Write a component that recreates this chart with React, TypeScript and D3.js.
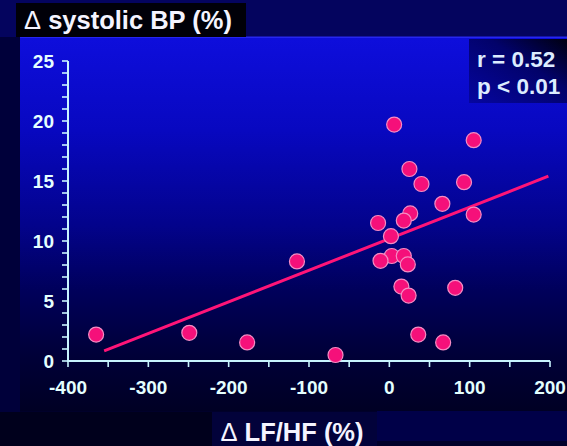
import React from "react";
import * as d3 from "d3";

const W = 567;
const H = 446;

const xValues = [6, 105, 25, 40, 93, 66, 26, 18, -14, 105, 2, 3, 18, -11, 23, 15, 24, 82, 36, 67, -67, -365, -249, -177, -115];
const yValues = [19.7, 18.4, 16.0, 14.75, 14.9, 13.1, 12.3, 11.7, 11.5, 12.2, 10.4, 8.75, 8.75, 8.35, 8.05, 6.2, 5.45, 6.1, 2.2, 1.55, 0.5, 2.2, 2.35, 1.55, 8.3];
const fitX = [-355, 198];
const fitY = [0.85, 15.4];
const xTickLabels = [-400, -300, -200, -100, 0, 100, 200];
const yTickLabels = [0, 5, 10, 15, 20, 25];

export default function App() {
  const x = d3.scaleLinear().domain([-400, 200]).range([68, 550]);
  const y = d3.scaleLinear().domain([0, 25]).range([361, 61]);
  const xMinor = d3.range(-400, 201, 50);
  const yMinor = d3.range(0, 26, 1);
  const line = d3.line<number>().x((d) => x(fitX[d])).y((d) => y(fitY[d]));
  const font = "'Liberation Sans', Arial, sans-serif";
  const axisCol = "#c8f4ff";
  const txtCol = "#e4ffff";
  return (
    <svg width={W} height={H} style={{ position: "absolute", left: 0, top: 0 }} fontFamily={font}>
      <defs>
        <linearGradient id="panel" x1="0" y1="0" x2="0" y2="1">
          <stop offset="0" stopColor="#0e0edc" />
          <stop offset="0.25" stopColor="#0808c0" />
          <stop offset="0.5" stopColor="#03038c" />
          <stop offset="0.68" stopColor="#00005a" />
          <stop offset="0.85" stopColor="#000038" />
          <stop offset="1" stopColor="#000024" />
        </linearGradient>
        <linearGradient id="rbox" x1="0" y1="1" x2="1" y2="0">
          <stop offset="0" stopColor="#0606a0" />
          <stop offset="0.6" stopColor="#02026a" />
          <stop offset="1" stopColor="#000010" />
        </linearGradient>
      </defs>
      <rect x={0} y={0} width={W} height={H} fill="#00002a" />
      <rect x={0} y={0} width={20} height={412} fill="#00003a" />
      <rect x={0} y={0} width={W} height={37} fill="#04045e" />
      <rect x={20} y={37} width={W - 20} height={374} fill="url(#panel)" />
      <rect x={20} y={36.5} width={W - 20} height={1.5} fill="#2626f0" />
      <rect x={377} y={411} width={W - 377} height={30} fill="#000048" />
      <rect x={0} y={412} width={212} height={34} fill="#00001c" />

      {/* title box */}
      <rect x={16} y={3} width={230} height={34} fill="#000008" />
      <text x={24} y={29} fill="#f4f4ff" fontSize={25.5} fontWeight="bold">
        <tspan fontWeight="normal">Δ</tspan> systolic BP (%)
      </text>

      {/* r/p box */}
      <rect x={469} y={39} width={98} height={64} fill="url(#rbox)" />
      <text x={477} y={67} fill="#dcecff" fontSize={22.5} fontWeight="bold">r = 0.52</text>
      <text x={477} y={94} fill="#dcecff" fontSize={22.5} fontWeight="bold">p &lt; 0.01</text>

      {/* x label box */}
      <rect x={212} y={412} width={165} height={34} fill="#02023a" />
      <text x={292} y={441} fill="#f4f4ff" fontSize={25.5} fontWeight="bold" textAnchor="middle">
        <tspan fontWeight="normal">Δ</tspan> LF/HF (%)
      </text>

      {/* axes */}
      <line x1={x(-400)} x2={x(-400)} y1={y(25)} y2={y(0)} stroke={axisCol} strokeWidth={2} />
      <line x1={x(-400) - 1} x2={x(200)} y1={y(0)} y2={y(0)} stroke={axisCol} strokeWidth={2} />
      {yMinor.map((v) => (
        <line key={"yt" + v} x1={x(-400) - 6} x2={x(-400)} y1={y(v)} y2={y(v)} stroke={axisCol} strokeWidth={1.6} />
      ))}
      {xMinor.map((v) => (
        <line key={"xt" + v} x1={x(v)} x2={x(v)} y1={y(0)} y2={y(0) + 6} stroke={axisCol} strokeWidth={1.6} />
      ))}
      {yTickLabels.map((v) => (
        <text key={"yl" + v} x={54} y={y(v)} dy="0.36em" fill={txtCol} fontSize={19} fontWeight="bold" textAnchor="end">
          {v}
        </text>
      ))}
      {xTickLabels.map((v) => (
        <text key={"xl" + v} x={x(v)} y={394} fill={txtCol} fontSize={19} fontWeight="bold" textAnchor="middle">
          {v}
        </text>
      ))}

      {/* fit line */}
      <path d={line([0, 1]) || ""} stroke="#ff1478" strokeWidth={3} fill="none" />

      {/* points */}
      {xValues.map((v, i) => (
        <circle key={"p" + i} cx={x(v)} cy={y(yValues[i])} r={7.5} fill="#f5107a" stroke="#f58cc4" strokeWidth={1.2} />
      ))}
    </svg>
  );
}
